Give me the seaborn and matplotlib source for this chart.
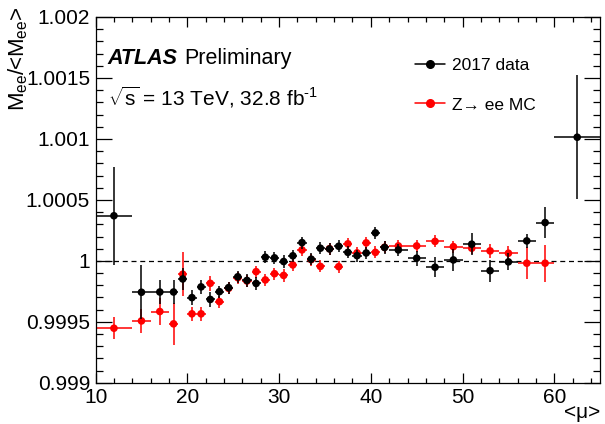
import numpy as np
import pandas as pd
import matplotlib
matplotlib.use("Agg")
import matplotlib.pyplot as plt
from matplotlib.lines import Line2D
from matplotlib.ticker import MultipleLocator, FuncFormatter
import seaborn as sns

# Data (bin centre, half width, ratio, error)
data_mu = [12, 15, 17, 18.5, 19.5, 20.5, 21.5, 22.5, 23.5, 24.5, 25.5, 26.5, 27.5,
           28.5, 29.5, 30.5, 31.5, 32.5, 33.5, 34.5, 35.5, 36.5, 37.5, 38.5, 39.5,
           40.5, 41.5, 43, 45, 47, 49, 51, 53, 55, 57, 59, 62.5]
data_xerr = [2, 1, 1, 0.5, 0.5, 0.5, 0.5, 0.5, 0.5, 0.5, 0.5, 0.5, 0.5,
             0.5, 0.5, 0.5, 0.5, 0.5, 0.5, 0.5, 0.5, 0.5, 0.5, 0.5, 0.5,
             0.5, 0.5, 1, 1, 1, 1, 1, 1, 1, 1, 1, 2.5]
data_ratio = [1.00037, 0.999743, 0.999745, 0.999745, 0.999852, 0.999699, 0.999787,
              0.999684, 0.999748, 0.999781, 0.99987, 0.99984, 0.999815, 1.00003,
              1.000025, 0.999995, 1.000042, 1.00015, 1.000014, 1.000104, 1.000098,
              1.00012, 1.00007, 1.000043, 1.000065, 1.00023, 1.00011, 1.00009,
              1.000022, 0.999948, 1.000008, 1.000137, 0.99992, 0.999992, 1.000164,
              1.000314, 1.001014]
data_err = [0.0004, 0.00022, 0.0001, 0.0001, 0.00009, 0.00006, 0.00006, 0.00006,
            0.00005, 0.00005, 0.00005, 0.00005, 0.00005, 0.00005, 0.00005, 0.00005,
            0.00005, 0.00005, 0.00005, 0.00005, 0.00005, 0.00005, 0.00005, 0.00005,
            0.00005, 0.00005, 0.00005, 0.00005, 0.00006, 0.00008, 0.00009, 0.00009,
            0.00009, 0.00007, 0.00006, 0.00013, 0.00051]

mc_mu = data_mu[:-1]
mc_xerr = data_xerr[:-1]
mc_ratio = [0.999448, 0.999508, 0.999585, 0.999484, 0.999891, 0.999566, 0.999566,
            0.999816, 0.999666, 0.999775, 0.999862, 0.999835, 0.999912, 0.999844,
            0.999895, 0.999881, 0.999967, 1.00009, 1.00001, 0.999955, 1.0001,
            0.999953, 1.00014, 1.000066, 1.000148, 1.00007, 1.000112, 1.000123,
            1.000123, 1.00016, 1.000117, 1.000104, 1.000082, 1.000063, 0.999981,
            0.999981]
mc_err = [0.00009, 0.0001, 0.00011, 0.00017, 0.00018, 0.00006, 0.00006, 0.00006,
          0.00005, 0.00005, 0.00005, 0.00005, 0.00005, 0.00005, 0.00005, 0.00005,
          0.00005, 0.00005, 0.00005, 0.00005, 0.00005, 0.00005, 0.00005, 0.00005,
          0.00005, 0.00005, 0.00005, 0.00005, 0.00005, 0.00005, 0.00005, 0.00005,
          0.00006, 0.00006, 0.00013, 0.00015]

data_df = pd.DataFrame({'mu': data_mu, 'ratio': data_ratio})
mc_df = pd.DataFrame({'mu': mc_mu, 'ratio': mc_ratio})

sns.set_style("ticks")
plt.rcParams['font.family'] = ['Liberation Sans', 'DejaVu Sans']
plt.rcParams['mathtext.fontset'] = 'custom'
plt.rcParams['mathtext.rm'] = 'Liberation Sans'
plt.rcParams['mathtext.it'] = 'Liberation Sans:italic'
plt.rcParams['mathtext.bf'] = 'Liberation Sans:bold'
for key in ['text.color', 'axes.labelcolor', 'xtick.color', 'ytick.color']:
    plt.rcParams[key] = 'black'

fig = plt.figure(figsize=(6.05, 4.24), dpi=100)
ax = fig.add_axes([0.158, 0.097, 0.834, 0.863])

ax.axhline(1.0, color='black', ls=(0, (4, 3)), lw=0.9, zorder=1)

# MC first, data on top
ax.errorbar(mc_mu, mc_ratio, xerr=mc_xerr, yerr=mc_err, fmt='none',
            ecolor='#ff0000', elinewidth=1.1, capsize=0, zorder=2)
sns.scatterplot(data=mc_df, x='mu', y='ratio', color='#ff0000', s=30,
                edgecolor='none', linewidth=0, ax=ax, zorder=3)
ax.errorbar(data_mu, data_ratio, xerr=data_xerr, yerr=data_err, fmt='none',
            ecolor='black', elinewidth=1.1, capsize=0, zorder=4)
sns.scatterplot(data=data_df, x='mu', y='ratio', color='black', s=30,
                edgecolor='none', linewidth=0, ax=ax, zorder=5)

ax.set_xlim(10, 65)
ax.set_ylim(0.999, 1.002)
ax.xaxis.set_major_locator(MultipleLocator(10))
ax.xaxis.set_minor_locator(MultipleLocator(2))
ax.yaxis.set_major_locator(MultipleLocator(0.0005))
ax.yaxis.set_minor_locator(MultipleLocator(0.0001))
ax.yaxis.set_major_formatter(FuncFormatter(lambda v, p: f'{v:g}'))

ax.tick_params(which='both', direction='in', top=True, right=True,
               labelsize=15, width=0.9, color='black', labelcolor='black')
ax.tick_params(axis='x', which='major', length=7, pad=4)
ax.tick_params(axis='x', which='minor', length=3.5)
ax.tick_params(axis='y', which='major', length=11.5, pad=4)
ax.tick_params(axis='y', which='minor', length=5)
for sp in ax.spines.values():
    sp.set_linewidth(0.9)
    sp.set_color('black')

ax.set_xlabel('<μ>', fontsize=15, ha='right', va='top')
ax.xaxis.set_label_coords(1.0, -0.055)
ax.set_ylabel(r'M$_{\rm ee}$/<M$_{\rm ee}$>', fontsize=16, loc='top')
ax.yaxis.set_label_coords(-0.13, 1.03)

atlas = ax.text(0.024, 0.872, 'ATLAS', transform=ax.transAxes, fontsize=15.5,
                fontweight='bold', fontstyle='italic', va='baseline')
ax.annotate('Preliminary', xy=(1, 0), xycoords=atlas, xytext=(5, 0),
            textcoords='offset points', fontsize=15.5, va='bottom')
ax.text(0.024, 0.757, r'$\sqrt{\rm s}$ = 13 TeV, 32.8 fb$^{\text{-1}}$',
        transform=ax.transAxes, fontsize=15, va='baseline')

handles = [
    Line2D([], [], color='black', marker='o', markersize=5.5, lw=1.1),
    Line2D([], [], color='#ff0000', marker='o', markersize=5.5, lw=1.1),
]
ax.legend(handles, ['2017 data', 'Z→ ee MC'], loc='upper left',
          bbox_to_anchor=(0.62, 0.907), frameon=False, fontsize=12.5,
          handlelength=1.7, handletextpad=0.4, labelspacing=1.4,
          borderaxespad=0)

fig.savefig('out.png', dpi=100)
